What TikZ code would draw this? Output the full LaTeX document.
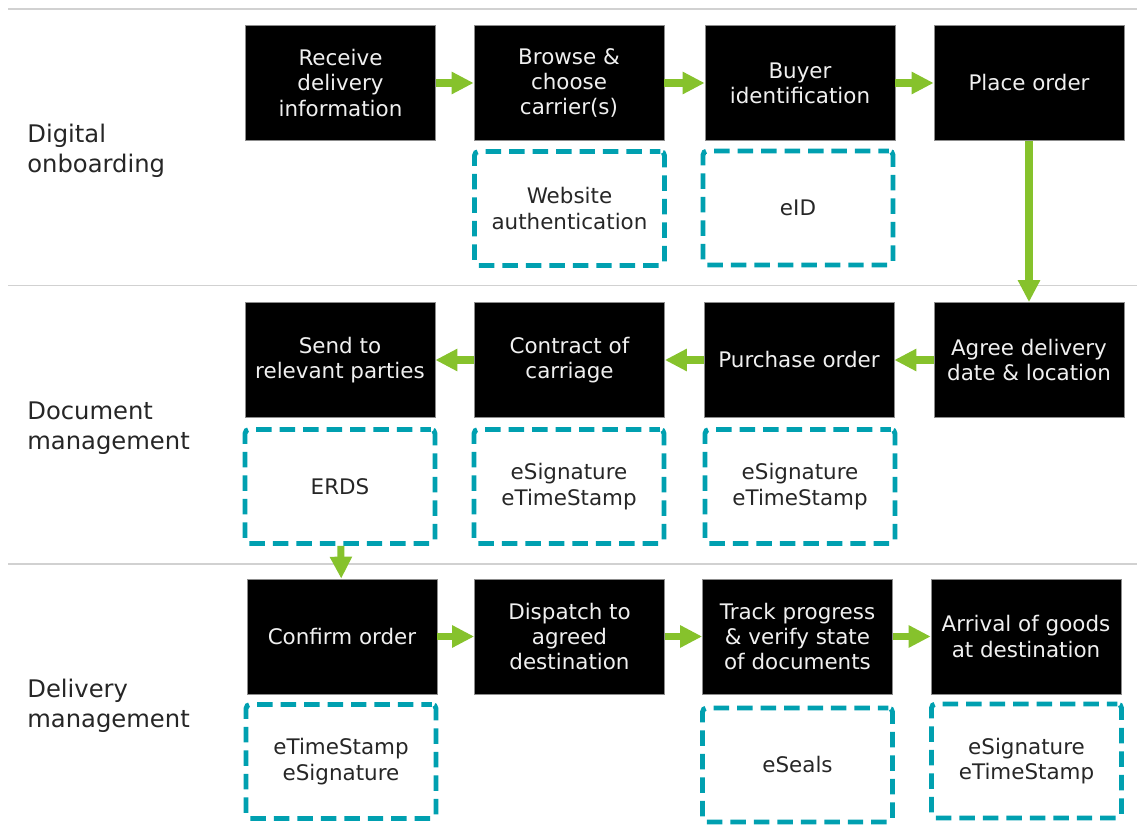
\documentclass[tikz,border=0pt]{standalone}
\usepackage{fontspec}
\setmainfont{DejaVu Sans}
\usetikzlibrary{arrows.meta}
\definecolor{stepgreen}{RGB}{134,194,44}
\definecolor{servteal}{RGB}{0,160,176}
\tikzset{
	stepbox/.style={draw=black!45, line width=0.4pt, fill=black, text=white!94!black,
		minimum width=3.8cm, minimum height=2.3cm, align=center,
		font=\fontsize{12.2}{14.4}\selectfont},
	servbox/.style={draw=servteal, line width=2.8pt, dash pattern=on 0.31cm off 0.16cm,
		dash phase=0.1cm, rounded corners=0.08cm, minimum width=3.8cm, minimum height=2.28cm,
		align=center, text=black!85, font=\fontsize{12.2}{14.4}\selectfont},
	lanelabel/.style={anchor=west, align=left, inner sep=0pt, text=black!85,
		font=\fontsize{13.8}{17}\selectfont},
	flow/.style={draw=stepgreen, line width=4pt, -{Triangle[length=0.44cm,width=0.42cm]}},
	sep/.style={draw=black!18, line width=1.1pt}
}

\begin{document}
\begin{tikzpicture}[x=0.02cm, y=-0.02cm]
		%%%%% START %%%%%
		\useasboundingbox (0, 0) rectangle (1137, 834);
		
		\draw[sep] (8, 9) -- (1137, 9);
		\draw[sep] (8, 285.5) -- (1137, 285.5);
		\draw[sep] (8, 564) -- (1137, 564);
		
		\node[lanelabel] (lblonb) at (27, 151) {Digital\\onboarding};
		\node[lanelabel] (lbldoc) at (27, 428) {Document\\management};
		\node[lanelabel] (lbldel) at (27, 706) {Delivery\\management};
		
		% digital onboarding
		\node[stepbox] (recv) at (340.5, 83) {Receive\\delivery\\information};
		\node[stepbox] (browse) at (569, 83) {Browse \&\\choose\\carrier(s)};
		\node[stepbox] (buyer) at (800, 83) {Buyer\\identification};
		\node[stepbox] (place) at (1029, 83) {Place order};
		\node[servbox] (webauth) at (569.5, 208.5) {Website\\authentication};
		\node[servbox] (eid) at (798, 208) {eID};
		
		% document management
		\node[stepbox] (agree) at (1029, 360) {Agree delivery\\date \& location};
		\node[stepbox] (purchase) at (799, 360) {Purchase order};
		\node[stepbox] (contract) at (569.5, 360) {Contract of\\carriage};
		\node[stepbox] (send) at (340, 360) {Send to\\relevant parties};
		\node[servbox] (erds) at (340, 486.5) {ERDS};
		\node[servbox] (sigA) at (569, 486.5) {eSignature\\eTimeStamp};
		\node[servbox] (sigB) at (800, 486.5) {eSignature\\eTimeStamp};
		
		% delivery management
		\node[stepbox] (confirm) at (342, 636.5) {Confirm order};
		\node[stepbox] (dispatch) at (569.5, 636.5) {Dispatch to\\agreed\\destination};
		\node[stepbox] (track) at (797.5, 636.5) {Track progress\\\& verify state\\of documents};
		\node[stepbox] (arrival) at (1026, 636.5) {Arrival of goods\\at destination};
		\node[servbox] (tsC) at (341, 761.5) {eTimeStamp\\eSignature};
		\node[servbox] (seals) at (797.5, 765) {eSeals};
		\node[servbox] (sigC) at (1026.5, 761) {eSignature\\eTimeStamp};
		
		\draw[flow] (recv) -- (browse);
		\draw[flow] (browse) -- (buyer);
		\draw[flow] (buyer) -- (place);
		\draw[flow] (place) -- (agree);
		\draw[flow] (agree) -- (purchase);
		\draw[flow] (purchase) -- (contract);
		\draw[flow] (contract) -- (send);
		\draw[flow] (erds) -- (confirm);
		\draw[flow] (confirm) -- (dispatch);
		\draw[flow] (dispatch) -- (track);
		\draw[flow] (track) -- (arrival);
		%%%%% END %%%%%
	\end{tikzpicture}
\end{document}
